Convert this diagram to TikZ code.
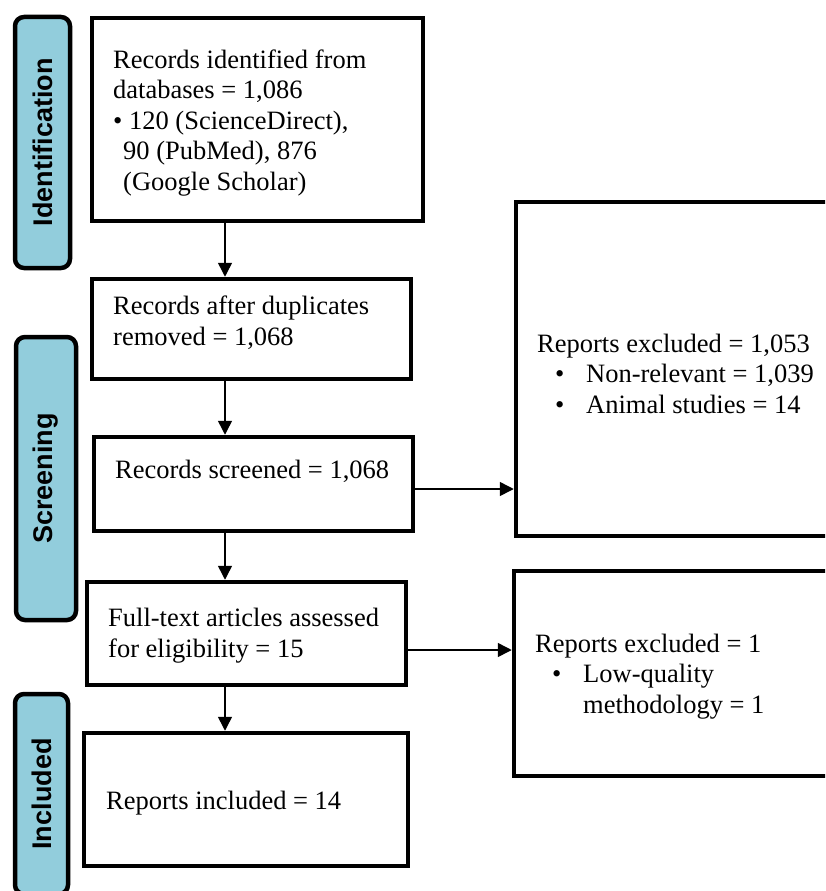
\documentclass[tikz,border=0pt]{standalone}
\usepackage{fontspec}
\setmainfont{Liberation Serif}
\newfontfamily\lblfont{Liberation Sans}
\usetikzlibrary{arrows.meta}
\definecolor{stageblue}{RGB}{146,205,220}
\tikzset{
	stagebox/.style={draw, line width=4.5pt, rounded corners=9pt, fill=stageblue, rotate=90,
		font=\lblfont\bfseries\fontsize{27}{30}\selectfont},
	flowbox/.style={draw, line width=4.5pt},
	flowtext/.style={anchor=base west, inner sep=0pt, align=left},
	flowarrow/.style={line width=1.5pt, -{Triangle[length=14pt,width=14pt]}}
}

\begin{document}
\begin{tikzpicture}[x=1pt,y=-1pt,font=\fontsize{26.5}{30.5}\selectfont]
	\clip (0,0) rectangle (825,891);
	\node[stagebox, minimum width=251pt, minimum height=55pt] (identlbl) at (42.5,142.5) {Identification};
	\node[stagebox, minimum width=283pt, minimum height=60pt] (screenlbl) at (46,478.5) {Screening};
	\node[stagebox, minimum width=200pt, minimum height=53pt] (incllbl) at (41.5,794) {Included};
	\node[flowbox, minimum width=331pt, minimum height=203pt] (idbox) at (257.5,119.5) {};
	\node[flowbox, minimum width=319pt, minimum height=100pt] (dupbox) at (251.5,329) {};
	\node[flowbox, minimum width=319pt, minimum height=94pt] (scrbox) at (253.5,484) {};
	\node[flowbox, minimum width=319pt, minimum height=103pt] (fullbox) at (246.5,633.5) {};
	\node[flowbox, minimum width=324pt, minimum height=133pt] (inclbox) at (246,799.5) {};
	\node[flowbox, minimum width=482pt, minimum height=334pt] (exclscr) at (757,369) {};
	\node[flowbox, minimum width=484pt, minimum height=205pt] (exclfull) at (756,673.5) {};
	\node[flowtext] (idtxt) at (113,190) {Records identified from\\databases = 1,086\\\textbullet\ 120 (ScienceDirect),\\\hspace*{10pt}90 (PubMed), 876\\\hspace*{10pt}(Google Scholar)};
	\node[flowtext] (duptxt) at (113,345) {Records after duplicates\\removed = 1,068};
	\node[flowtext] (scrtxt) at (115,478) {Records screened = 1,068};
	\node[flowtext] (fulltxt) at (108,657) {Full-text articles assessed\\for eligibility = 15};
	\node[flowtext] (incltxt) at (106,809) {Reports included = 14};
	\node[flowtext] (exclscrtxt) at (537,413) {Reports excluded = 1,053\\\hspace*{18pt}\makebox[31pt][l]{\textbullet}Non-relevant = 1,039\\\hspace*{18pt}\makebox[31pt][l]{\textbullet}Animal studies = 14};
	\node[flowtext] (exclfulltxt) at (535,713) {Reports excluded = 1\\\hspace*{17pt}\makebox[31pt][l]{\textbullet}Low-quality\\\hspace*{48pt}methodology = 1};
	\coordinate (spine) at (225,0);
	\coordinate (scrrow) at (0,489);
	\coordinate (fullrow) at (0,650);
	\draw[flowarrow] (idbox.south -| spine) -- (dupbox.north -| spine);
	\draw[flowarrow] (dupbox.south -| spine) -- (scrbox.north -| spine);
	\draw[flowarrow] (scrbox.south -| spine) -- (fullbox.north -| spine);
	\draw[flowarrow] (fullbox.south -| spine) -- (inclbox.north -| spine);
	\draw[flowarrow] (scrbox.east |- scrrow) -- (exclscr.west |- scrrow);
	\draw[flowarrow] (fullbox.east |- fullrow) -- (exclfull.west |- fullrow);
\end{tikzpicture}
\end{document}
